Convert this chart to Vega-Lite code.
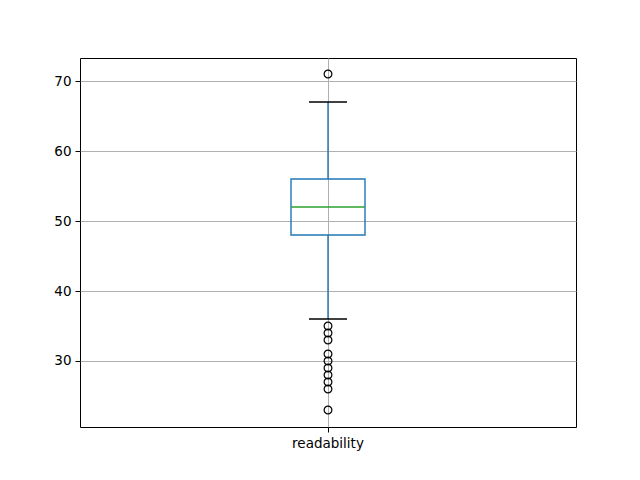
{
  "$schema": "https://vega.github.io/schema/vega-lite/v6.json",
  "autosize": "none",
  "width": 496,
  "height": 369,
  "padding": {"left": 80, "top": 58, "right": 64, "bottom": 53},
  "background": "white",
  "config": {
    "view": {"stroke": "black", "strokeWidth": 1},
    "axis": {
      "labelFont": "DejaVu Sans",
      "labelFontSize": 13.5,
      "labelColor": "black",
      "tickColor": "black",
      "tickSize": 5,
      "tickWidth": 1,
      "labelPadding": 4,
      "domain": false,
      "gridColor": "#b0b0b0",
      "gridWidth": 1,
      "gridOpacity": 1
    }
  },
  "datasets": {
    "box": [{"var": "readability", "lower": 36, "q1": 48, "median": 52, "q3": 56, "upper": 67}],
    "outliers": [
      {"var": "readability", "value": 71},
      {"var": "readability", "value": 35},
      {"var": "readability", "value": 34},
      {"var": "readability", "value": 33},
      {"var": "readability", "value": 31},
      {"var": "readability", "value": 30},
      {"var": "readability", "value": 29},
      {"var": "readability", "value": 28},
      {"var": "readability", "value": 27},
      {"var": "readability", "value": 26},
      {"var": "readability", "value": 23}
    ]
  },
  "encoding": {
    "x": {
      "field": "var",
      "type": "nominal",
      "scale": {"type": "band", "paddingInner": 0, "paddingOuter": 0},
      "axis": {"title": null, "labelAngle": 0, "grid": true, "bandPosition": 0.5}
    }
  },
  "layer": [
    {
      "data": {"name": "box"},
      "mark": {"type": "rule", "color": "#1f77b4", "strokeWidth": 1.4},
      "encoding": {
        "y": {"field": "lower", "type": "quantitative", "scale": {"domain": [20.57, 73.29], "nice": false, "zero": false}, "axis": {"title": null, "values": [30, 40, 50, 60, 70], "grid": true}},
        "y2": {"field": "q1"}
      }
    },
    {
      "data": {"name": "box"},
      "mark": {"type": "rule", "color": "#1f77b4", "strokeWidth": 1.4},
      "encoding": {
        "y": {"field": "q3", "type": "quantitative"},
        "y2": {"field": "upper"}
      }
    },
    {
      "data": {"name": "box"},
      "mark": {"type": "bar", "size": 74, "fill": "white", "fillOpacity": 0, "stroke": "#1f77b4", "strokeWidth": 1.4},
      "encoding": {
        "y": {"field": "q1", "type": "quantitative"},
        "y2": {"field": "q3"}
      }
    },
    {
      "data": {"name": "box"},
      "mark": {"type": "tick", "orient": "horizontal", "size": 74, "thickness": 1.4, "color": "#2ca02c", "opacity": 1},
      "encoding": {
        "y": {"field": "median", "type": "quantitative"}
      }
    },
    {
      "data": {"name": "box"},
      "mark": {"type": "tick", "orient": "horizontal", "size": 38, "thickness": 1.4, "color": "black", "opacity": 1},
      "encoding": {
        "y": {"field": "lower", "type": "quantitative"}
      }
    },
    {
      "data": {"name": "box"},
      "mark": {"type": "tick", "orient": "horizontal", "size": 38, "thickness": 1.4, "color": "black", "opacity": 1},
      "encoding": {
        "y": {"field": "upper", "type": "quantitative"}
      }
    },
    {
      "data": {"name": "outliers"},
      "mark": {"type": "point", "shape": "circle", "filled": false, "stroke": "black", "strokeWidth": 1.2, "size": 60, "opacity": 1},
      "encoding": {
        "y": {"field": "value", "type": "quantitative"}
      }
    }
  ]
}
